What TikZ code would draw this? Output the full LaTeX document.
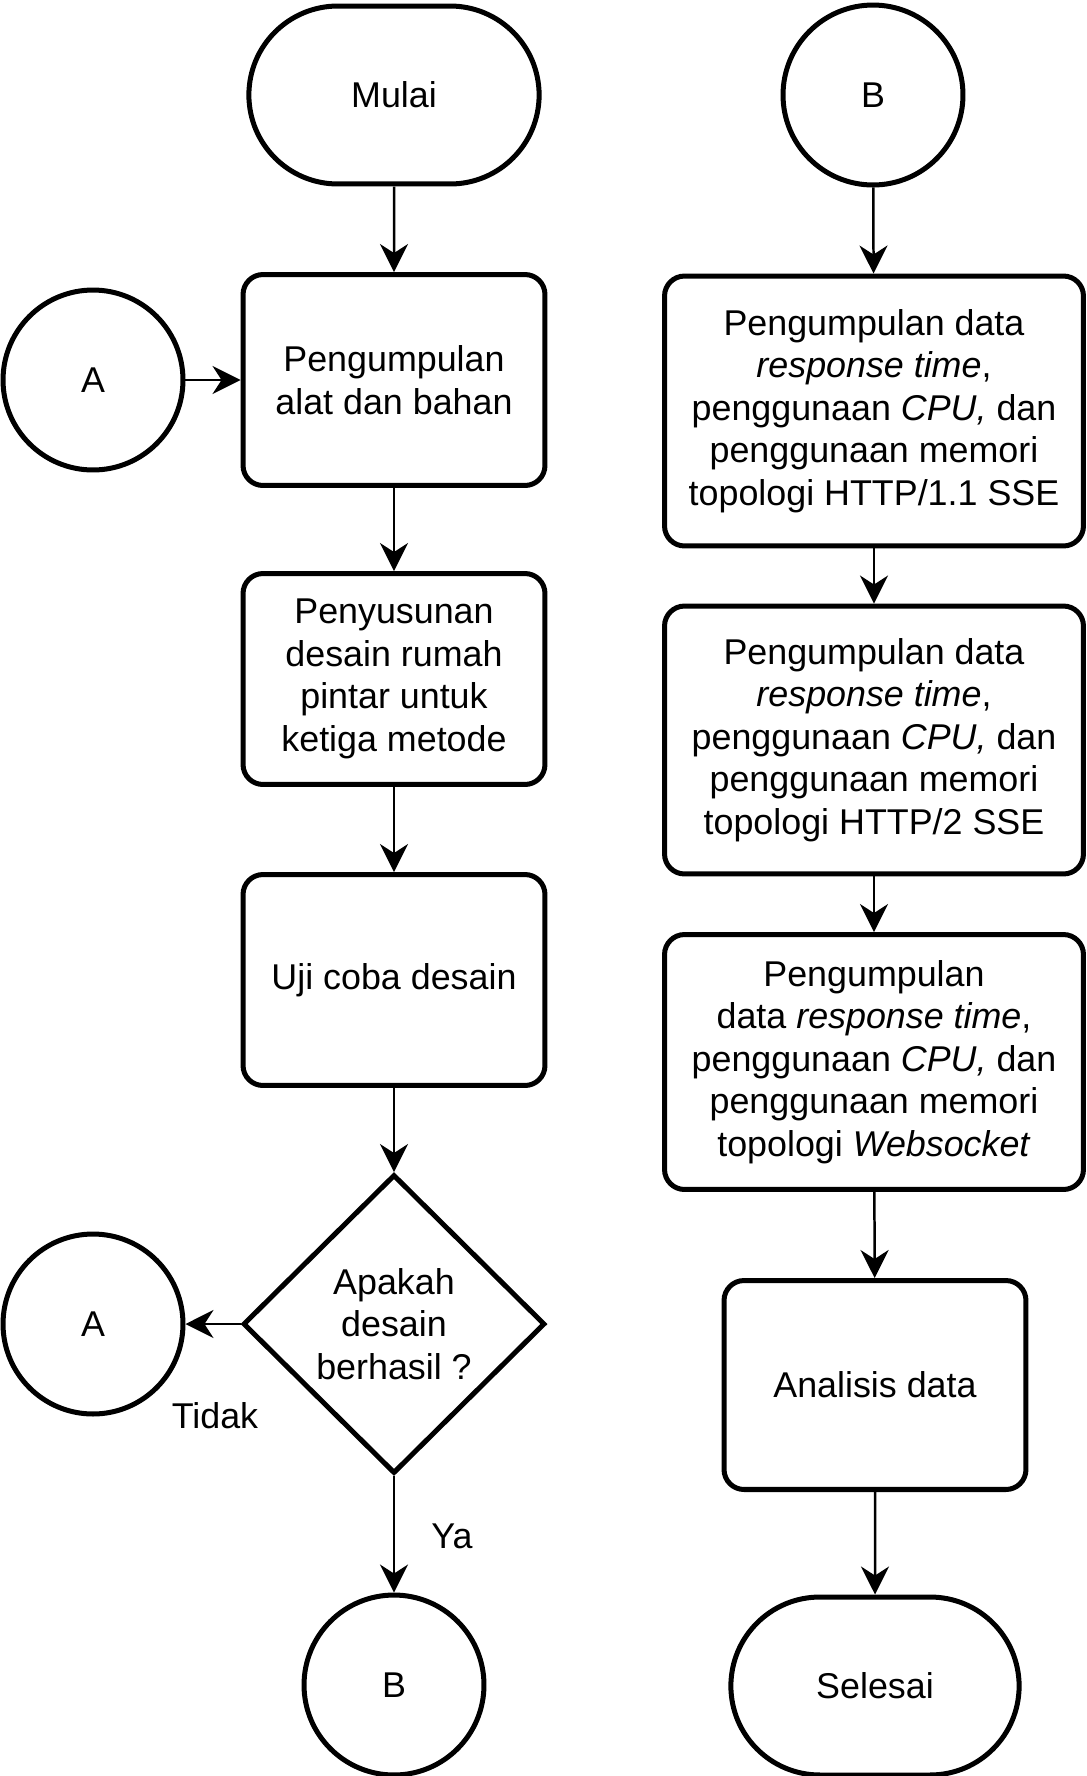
\documentclass[tikz,border=0pt]{standalone}
\usepackage{fontspec}
\setmainfont{Liberation Sans}
\usetikzlibrary{arrows.meta,positioning,shapes.geometric,shapes.misc}

\begin{document}
\begin{tikzpicture}[
  x=0.02cm, y=-0.02cm,
  every node/.style={font=\fontsize{20.4pt}{24.2pt}\selectfont},
  term/.style={draw, line width=2.85pt, rounded rectangle, minimum width=6.04cm,
               minimum height=3.56cm, align=center},
  box/.style={draw, line width=2.85pt, rounded corners=0.4cm, minimum width=6.04cm,
              minimum height=4.22cm, align=center},
  wbox/.style={box, minimum width=8.38cm},
  conn/.style={draw, line width=2.85pt, circle, minimum size=3.6cm},
  dec/.style={draw, line width=2.85pt, diamond, minimum width=6.04cm,
              minimum height=5.98cm, inner sep=0pt, align=center},
  arr/.style={-{Stealth[length=0.56cm, width=0.56cm, inset=0.18cm]}, line width=1.42pt},
  lbl/.style={inner sep=0pt},
]
\useasboundingbox (0,0) rectangle (1086,1776);

% left column
\node[term] (mulai) at (394,95) {Mulai};
\node[box] (alat) at (394,380) {Pengumpulan\\alat dan bahan};
\node[box] (desain) at (394,679) {Penyusunan\\desain rumah\\pintar untuk\\ketiga metode};
\node[box] (uji) at (394,980) {Uji coba desain};
\node[dec] (cek) at (394,1324) {Apakah\\desain\\berhasil ?};
\node[conn] (a1) at (93,380) {A};
\node[conn] (a2) at (93,1324) {A};
\node[conn] (b2) at (394,1685) {B};
\node[lbl] (tidak) at (215,1416) {Tidak};
\node[lbl] (ya) at (452,1536) {Ya};

% right column
\node[conn] (b1) at (873,95) {B};
\node[wbox, minimum height=5.4cm] (http1) at (874,411)
  {Pengumpulan data\\\textit{response time},\\penggunaan \textit{CPU,} dan\\penggunaan memori\\topologi HTTP/1.1 SSE};
\node[wbox, minimum height=5.36cm] (http2) at (874,740)
  {Pengumpulan data\\\textit{response time},\\penggunaan \textit{CPU,} dan\\penggunaan memori\\topologi HTTP/2 SSE};
\node[wbox, minimum height=5.1cm] (ws) at (874,1062)
  {Pengumpulan\\data \textit{response time},\\penggunaan \textit{CPU,} dan\\penggunaan memori\\topologi \textit{Websocket}};
\node[box, minimum height=4.18cm] (analisis) at (875,1385) {Analisis data};
\node[term, minimum width=6cm] (selesai) at (875,1686) {Selesai};

\draw[arr] (mulai) -- (alat);
\draw[arr] (a1) -- (alat);
\draw[arr] (alat) -- (desain);
\draw[arr] (desain) -- (uji);
\draw[arr] (uji) -- (cek);
\draw[arr] (cek) -- (a2);
\draw[arr] (cek) -- (b2);

\draw[arr] (b1) -- (http1);
\draw[arr] (http1) -- (http2);
\draw[arr] (http2) -- (ws);
\draw[arr] (ws) -- (analisis);
\draw[arr] (analisis) -- (selesai);
\end{tikzpicture}
\end{document}
